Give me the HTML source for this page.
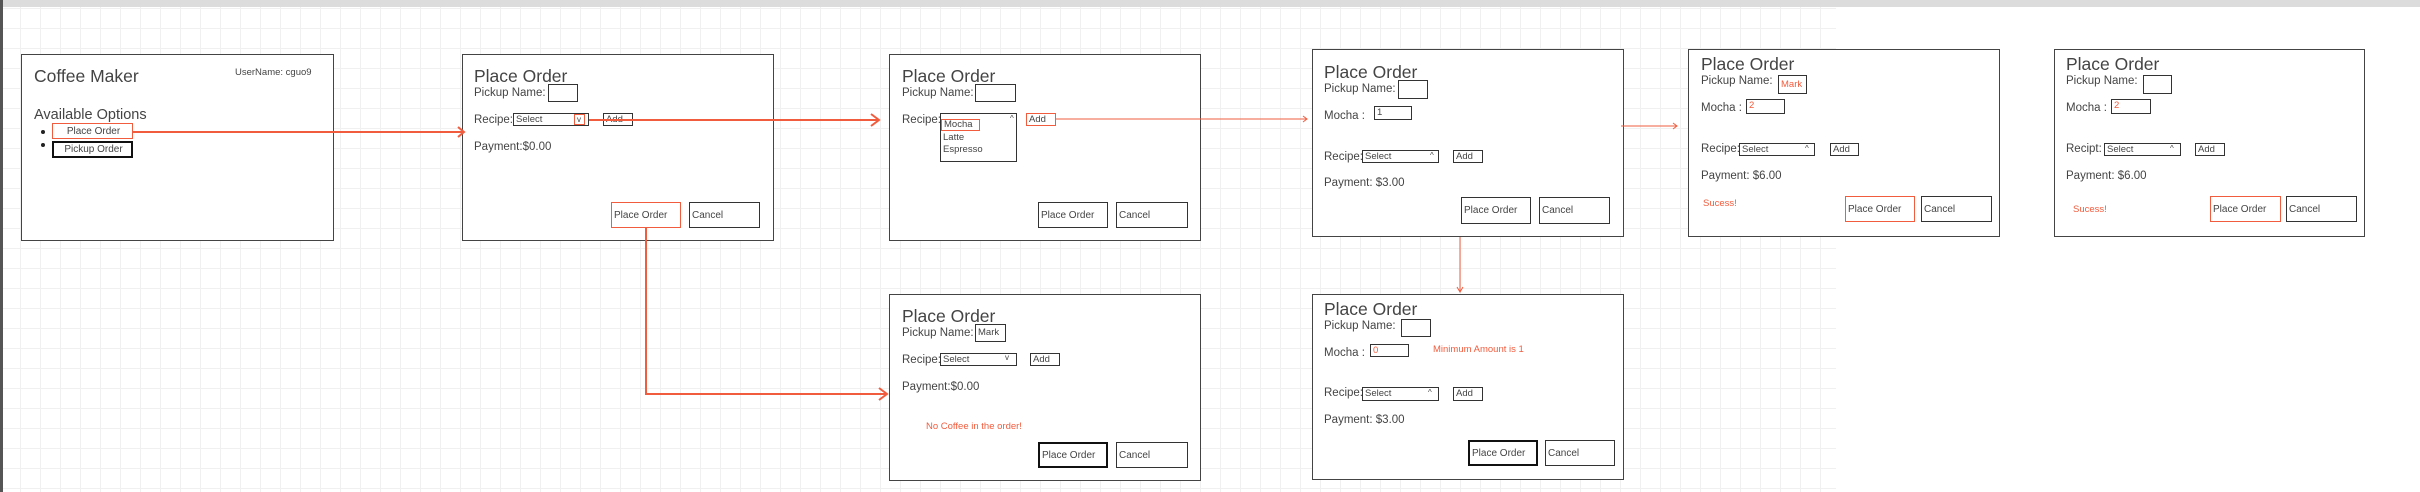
<!DOCTYPE html>
<html><head><meta charset="utf-8"><style>
body{margin:0;width:2420px;height:492px;position:relative;overflow:hidden;background:#fff;font-family:"Liberation Sans",sans-serif;color:#444}
.g{position:absolute;left:3px;top:7px;width:1833px;height:485px;background-image:linear-gradient(#f0f0f0 1px,transparent 1px),linear-gradient(90deg,#f0f0f0 1px,transparent 1px);background-size:20px 20px;background-position:0 1px,-3px 0}
.box{position:absolute;border:1.5px solid #444;background:#fff;box-sizing:border-box}
.t{position:absolute;white-space:nowrap}
.ti{font-size:17.5px;line-height:18px}
.lb{font-size:11.5px;line-height:12px}
.sm{font-size:9.5px;line-height:10px}
.in{position:absolute;border:1px solid #333;box-sizing:border-box;font-size:9.5px;line-height:12px;padding-left:2px;white-space:nowrap;overflow:hidden}
.btn{position:absolute;border:1px solid #333;box-sizing:border-box;font-size:10px;display:flex;align-items:center;padding-left:2px;white-space:nowrap}
.r{border-color:#f25c3e!important}
.rc{color:#f25c3e}
.k{border:2px solid #111!important}
</style></head><body>
<div style="position:absolute;left:0;top:0;width:2420px;height:7px;background:#dcdcdc"></div>
<div style="position:absolute;left:0;top:0;width:3px;height:492px;background:#555"></div>
<div class="g"></div>

<!-- Box1 -->
<div class="box" style="left:21px;top:54px;width:313px;height:187px"></div>
<div class="t ti" style="left:34px;top:67px">Coffee Maker</div>
<div class="t sm" style="left:235px;top:68px">UserName: cguo9</div>
<div class="t" style="left:34px;top:107px;font-size:14.5px;line-height:16px">Available Options</div>
<div style="position:absolute;left:41px;top:130px;width:4px;height:4px;border-radius:50%;background:#222"></div>
<div style="position:absolute;left:41px;top:143px;width:4px;height:4px;border-radius:50%;background:#222"></div>
<div class="btn r" style="left:52px;top:123px;width:81px;height:16px;border-width:1.5px;justify-content:center">Place Order</div>
<div class="btn k" style="left:52px;top:141px;width:81px;height:17px;justify-content:center">Pickup Order</div>

<!-- Box2 -->
<div class="box" style="left:462px;top:54px;width:312px;height:187px"></div>
<div class="t ti" style="left:474px;top:67px">Place Order</div>
<div class="t lb" style="left:474px;top:87px">Pickup Name:</div>
<div class="in" style="left:548px;top:84px;width:30px;height:18px"></div>
<div class="t lb" style="left:474px;top:114px">Recipe:</div>
<div class="in" style="left:513px;top:113px;width:76px;height:13px">Select</div>
<div class="in r" style="left:574px;top:114px;width:11px;height:11px;font-size:8px;line-height:9px;padding-left:2px">v</div>
<div class="in" style="left:603px;top:113px;width:30px;height:13px">Add</div>
<div class="t lb" style="left:474px;top:141px">Payment:$0.00</div>
<div class="btn r" style="left:611px;top:202px;width:70px;height:26px">Place Order</div>
<div class="btn" style="left:689px;top:202px;width:71px;height:26px">Cancel</div>

<!-- Box3 -->
<div class="box" style="left:889px;top:54px;width:312px;height:187px"></div>
<div class="t ti" style="left:902px;top:67px">Place Order</div>
<div class="t lb" style="left:902px;top:87px">Pickup Name:</div>
<div class="in" style="left:975px;top:84px;width:41px;height:18px"></div>
<div class="t lb" style="left:902px;top:114px">Recipe:</div>
<div class="in" style="left:940px;top:113px;width:77px;height:49px"></div>
<div class="in r" style="left:941px;top:119px;width:39px;height:12px;border-width:1px;line-height:10px">Mocha</div>
<div class="t sm" style="left:943px;top:133px">Latte</div>
<div class="t sm" style="left:943px;top:145px">Espresso</div>
<div class="t" style="left:1010px;top:114px;font-size:8px">^</div>
<div class="in r" style="left:1026px;top:113px;width:30px;height:13px">Add</div>
<div class="btn" style="left:1038px;top:202px;width:70px;height:26px">Place Order</div>
<div class="btn" style="left:1116px;top:202px;width:72px;height:26px">Cancel</div>

<!-- Box4 -->
<div class="box" style="left:1312px;top:49px;width:312px;height:188px"></div>
<div class="t ti" style="left:1324px;top:63px">Place Order</div>
<div class="t lb" style="left:1324px;top:83px">Pickup Name:</div>
<div class="in" style="left:1398px;top:80px;width:30px;height:19px"></div>
<div class="t lb" style="left:1324px;top:110px">Mocha :</div>
<div class="in" style="left:1374px;top:106px;width:38px;height:14px">1</div>
<div class="t lb" style="left:1324px;top:151px">Recipe:</div>
<div class="in" style="left:1362px;top:150px;width:77px;height:13px">Select</div>
<div class="t" style="left:1430px;top:151px;font-size:8px">^</div>
<div class="in" style="left:1453px;top:150px;width:30px;height:13px">Add</div>
<div class="t lb" style="left:1324px;top:177px">Payment: $3.00</div>
<div class="btn" style="left:1461px;top:197px;width:70px;height:27px">Place Order</div>
<div class="btn" style="left:1539px;top:197px;width:71px;height:27px">Cancel</div>

<!-- Box5 -->
<div class="box" style="left:889px;top:294px;width:312px;height:187px"></div>
<div class="t ti" style="left:902px;top:307px">Place Order</div>
<div class="t lb" style="left:902px;top:327px">Pickup Name:</div>
<div class="in" style="left:975px;top:324px;width:31px;height:18px;line-height:16px">Mark</div>
<div class="t lb" style="left:902px;top:354px">Recipe:</div>
<div class="in" style="left:940px;top:353px;width:77px;height:13px">Select</div>
<div class="t" style="left:1005px;top:353px;font-size:8px">v</div>
<div class="in" style="left:1030px;top:353px;width:30px;height:13px">Add</div>
<div class="t lb" style="left:902px;top:381px">Payment:$0.00</div>
<div class="t sm rc" style="left:926px;top:422px">No Coffee in the order!</div>
<div class="btn k" style="left:1038px;top:442px;width:70px;height:26px">Place Order</div>
<div class="btn" style="left:1116px;top:442px;width:72px;height:26px">Cancel</div>

<!-- Box6 -->
<div class="box" style="left:1312px;top:294px;width:312px;height:186px"></div>
<div class="t ti" style="left:1324px;top:300px">Place Order</div>
<div class="t lb" style="left:1324px;top:320px">Pickup Name:</div>
<div class="in" style="left:1401px;top:319px;width:30px;height:18px"></div>
<div class="t lb" style="left:1324px;top:347px">Mocha :</div>
<div class="in rc" style="left:1370px;top:344px;width:39px;height:13px;border-color:#333">0</div>
<div class="t sm rc" style="left:1433px;top:345px">Minimum Amount is 1</div>
<div class="t lb" style="left:1324px;top:387px">Recipe:</div>
<div class="in" style="left:1362px;top:387px;width:77px;height:14px">Select</div>
<div class="t" style="left:1428px;top:388px;font-size:8px">^</div>
<div class="in" style="left:1453px;top:387px;width:30px;height:14px">Add</div>
<div class="t lb" style="left:1324px;top:414px">Payment: $3.00</div>
<div class="btn k" style="left:1468px;top:440px;width:70px;height:26px">Place Order</div>
<div class="btn" style="left:1545px;top:440px;width:70px;height:26px">Cancel</div>

<!-- Box7 -->
<div class="box" style="left:1688px;top:49px;width:312px;height:188px"></div>
<div class="t ti" style="left:1701px;top:55px">Place Order</div>
<div class="t lb" style="left:1701px;top:75px">Pickup Name:</div>
<div class="in rc" style="left:1778px;top:75px;width:29px;height:19px;line-height:17px;border-color:#333">Mark</div>
<div class="t lb" style="left:1701px;top:102px">Mocha :</div>
<div class="in rc" style="left:1746px;top:99px;width:39px;height:15px;border-color:#333">2</div>
<div class="t lb" style="left:1701px;top:143px">Recipe:</div>
<div class="in" style="left:1739px;top:143px;width:76px;height:13px">Select</div>
<div class="t" style="left:1805px;top:144px;font-size:8px">^</div>
<div class="in" style="left:1830px;top:143px;width:29px;height:13px">Add</div>
<div class="t lb" style="left:1701px;top:170px">Payment: $6.00</div>
<div class="t sm rc" style="left:1703px;top:199px">Sucess!</div>
<div class="btn r" style="left:1845px;top:196px;width:70px;height:26px">Place Order</div>
<div class="btn" style="left:1921px;top:196px;width:71px;height:26px">Cancel</div>

<!-- Box8 -->
<div class="box" style="left:2054px;top:49px;width:311px;height:188px"></div>
<div class="t ti" style="left:2066px;top:55px">Place Order</div>
<div class="t lb" style="left:2066px;top:75px">Pickup Name:</div>
<div class="in" style="left:2143px;top:75px;width:29px;height:19px"></div>
<div class="t lb" style="left:2066px;top:102px">Mocha :</div>
<div class="in rc" style="left:2111px;top:99px;width:40px;height:15px;border-color:#333">2</div>
<div class="t lb" style="left:2066px;top:143px">Recipt:</div>
<div class="in" style="left:2104px;top:143px;width:77px;height:13px">Select</div>
<div class="t" style="left:2170px;top:144px;font-size:8px">^</div>
<div class="in" style="left:2195px;top:143px;width:30px;height:13px">Add</div>
<div class="t lb" style="left:2066px;top:170px">Payment: $6.00</div>
<div class="t sm rc" style="left:2073px;top:205px">Sucess!</div>
<div class="btn r" style="left:2210px;top:196px;width:71px;height:26px">Place Order</div>
<div class="btn" style="left:2286px;top:196px;width:71px;height:26px">Cancel</div>

<svg width="2420" height="492" style="position:absolute;left:0;top:0" fill="none" stroke="#f25c3e">
<g stroke-width="2">
<path d="M133 132H463"/><path d="M458 127L464 132L458 137"/>
<path d="M589 120H878"/><path d="M871 114L879 120L871 126"/>
<path d="M646 228V394H886"/><path d="M879 388L887 394L879 400"/>
</g>
<g stroke-width="1">
<path d="M1056 119H1307"/><path d="M1303 116L1307 119L1303 122"/>
<path d="M1460 237V292"/><path d="M1457 287L1460 292L1463 287"/>
<path d="M1621 126H1677"/><path d="M1673 123L1677 126L1673 129"/>
</g>
</svg>
</body></html>
